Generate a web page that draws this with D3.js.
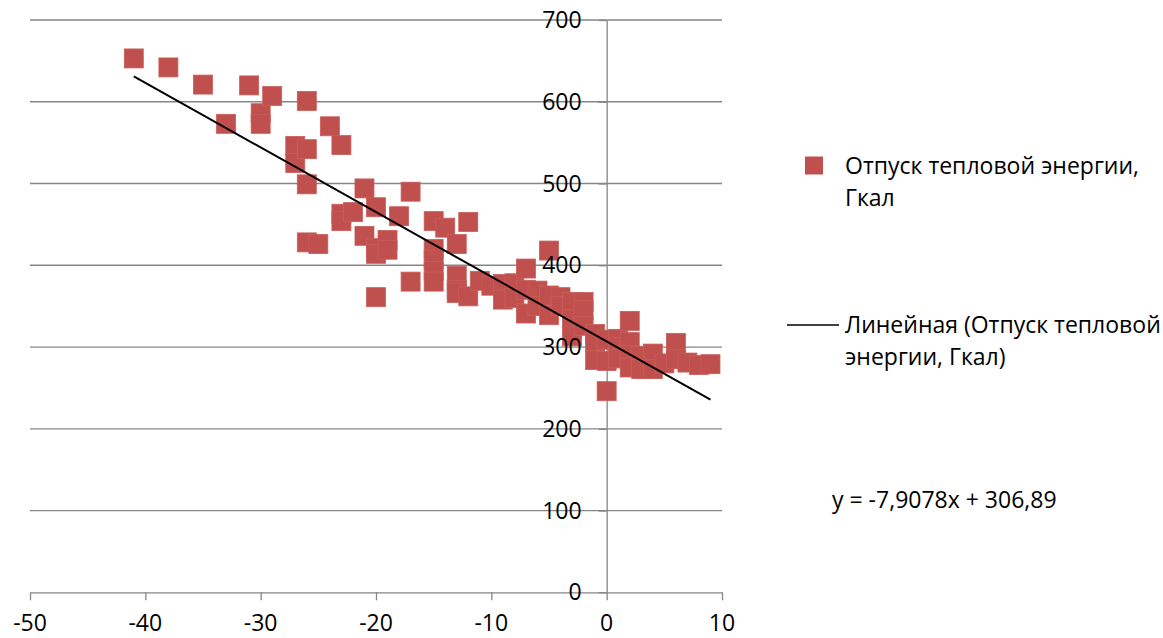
<!DOCTYPE html>
<html>
<head>
<meta charset="utf-8">
<script src="https://cdn.jsdelivr.net/npm/d3@7"></script>
<style>
  html, body { margin: 0; padding: 0; background: #fff; }
  svg text { font-family: "Open Sans", "Noto Sans", sans-serif; fill: #000; }
</style>
</head>
<body>
<svg id="chart" width="1163" height="638"></svg>
<script>
// Температура наружного воздуха (x) и отпуск тепла (y)
const tempX = [
  -41, -38, -35, -33, -31, -30, -30, -29, -27, -27, -26, -26, -26, -26, -25,
  -24, -23, -23, -23, -22, -21, -21, -20, -20, -20, -20, -19, -19, -18, -17,
  -17, -15, -15, -15, -15, -15, -14, -13, -13, -13, -13, -12, -12, -11, -10,
  -9, -9, -8, -8, -7, -7, -7, -6, -6, -5, -5, -5, -4, -4, -3,
  -3, -3, -2, -2, -2, -1, -1, -1, 0, 0, 0, 1, 1, 1, 2,
  2, 2, 2, 3, 3, 4, 4, 5, 6, 6, 7, 8, 9
]
const heatY = [
  653, 642, 621, 573, 620, 586, 573, 607, 546, 525, 601, 542, 499, 428, 426,
  570, 547, 463, 454, 465, 494, 436, 471, 421, 414, 361, 431, 419, 460, 490,
  380, 454, 420, 407, 393, 380, 446, 426, 387, 370, 366, 453, 362, 381, 375,
  377, 358, 378, 360, 396, 370, 341, 369, 350, 418, 363, 339, 361, 350, 355,
  334, 313, 355, 345, 326, 316, 305, 284, 309, 283, 246, 310, 300, 286, 332,
  306, 290, 275, 289, 273, 292, 273, 280, 305, 285, 281, 278, 279
]
const xTicks = [-50, -40, -30, -20, -10, 0, 10]
const yTicks = [0, 100, 200, 300, 400, 500, 600, 700]
const trendSlope = -7.9078
const trendIntercept = 306.89
const seriesName = ['Отпуск тепловой энергии,', 'Гкал']
const trendName = ['Линейная (Отпуск тепловой', 'энергии, Гкал)']
const equationText = 'y = -7,9078x + 306,89'

const FONT = 23
const RED = '#c0504d'
const GRID = '#868686'

const svg = d3.select('#chart')
svg.append('rect').attr('width', 1163).attr('height', 638).attr('fill', '#fff')

const x = d3.scaleLinear().domain([-50, 10]).range([30, 722])
const y = d3.scaleLinear().domain([0, 700]).range([592.3, 20])

// горизонтальная сетка
svg.append('g')
  .selectAll('line')
  .data(yTicks.filter(d => d !== 0))
  .enter().append('line')
  .attr('x1', x(-50)).attr('x2', x(10))
  .attr('y1', d => y(d)).attr('y2', d => y(d))
  .attr('stroke', GRID).attr('stroke-width', 1.3)

// оси
const xAxis = svg.append('g')
  .attr('transform', `translate(0,${y(0)})`)
  .call(d3.axisBottom(x).tickValues(xTicks).tickSizeInner(8).tickSizeOuter(0))
const yAxis = svg.append('g')
  .attr('transform', `translate(${x(0)},0)`)
  .call(d3.axisLeft(y).tickValues(yTicks).tickSizeInner(8).tickSizeOuter(0))

for (const ax of [xAxis, yAxis]) {
  ax.select('.domain').attr('stroke', GRID).attr('stroke-width', 1.3)
  ax.selectAll('.tick line').attr('stroke', GRID).attr('stroke-width', 1.3)
  ax.selectAll('.tick text').remove()
}

// точки
const points = tempX.map((t, i) => ({ t, q: heatY[i] }))
const mk = 19
svg.append('g')
  .selectAll('rect')
  .data(points)
  .enter().append('rect')
  .attr('x', d => x(d.t) - mk / 2)
  .attr('y', d => y(d.q) - mk / 2)
  .attr('width', mk).attr('height', mk)
  .attr('fill', RED)
  .attr('stroke', '#c95e5b').attr('stroke-width', 0.8)

// линия тренда
const [tMin, tMax] = d3.extent(tempX)
svg.append('line')
  .attr('x1', x(tMin)).attr('y1', y(trendSlope * tMin + trendIntercept))
  .attr('x2', x(tMax)).attr('y2', y(trendSlope * tMax + trendIntercept))
  .attr('stroke', '#000').attr('stroke-width', 2)

// подписи осей поверх точек
svg.append('g')
  .selectAll('text')
  .data(yTicks)
  .enter().append('text')
  .attr('x', x(0) - 25).attr('y', d => y(d))
  .attr('dy', '0.35em')
  .attr('text-anchor', 'end')
  .attr('font-size', FONT)
  .text(d => d)
svg.append('g')
  .selectAll('text')
  .data(xTicks)
  .enter().append('text')
  .attr('x', d => x(d)).attr('y', 631)
  .attr('text-anchor', 'middle')
  .attr('font-size', FONT)
  .text(d => d)

// легенда
const legend = svg.append('g')
legend.append('rect')
  .attr('x', 805).attr('y', 156.5).attr('width', 18).attr('height', 18)
  .attr('fill', RED)
legend.selectAll('text.s')
  .data(seriesName)
  .enter().append('text')
  .attr('class', 's')
  .attr('x', 845).attr('y', (d, i) => 173.5 + i * 32)
  .attr('font-size', FONT)
  .text(d => d)
legend.append('line')
  .attr('x1', 787).attr('x2', 839).attr('y1', 325).attr('y2', 325)
  .attr('stroke', '#000').attr('stroke-width', 1.5)
legend.selectAll('text.t')
  .data(trendName)
  .enter().append('text')
  .attr('class', 't')
  .attr('x', 845).attr('y', (d, i) => 333 + i * 32)
  .attr('font-size', FONT)
  .text(d => d)

svg.append('text')
  .attr('x', 832).attr('y', 508)
  .attr('font-size', FONT)
  .text(equationText)
</script>
</body>
</html>
